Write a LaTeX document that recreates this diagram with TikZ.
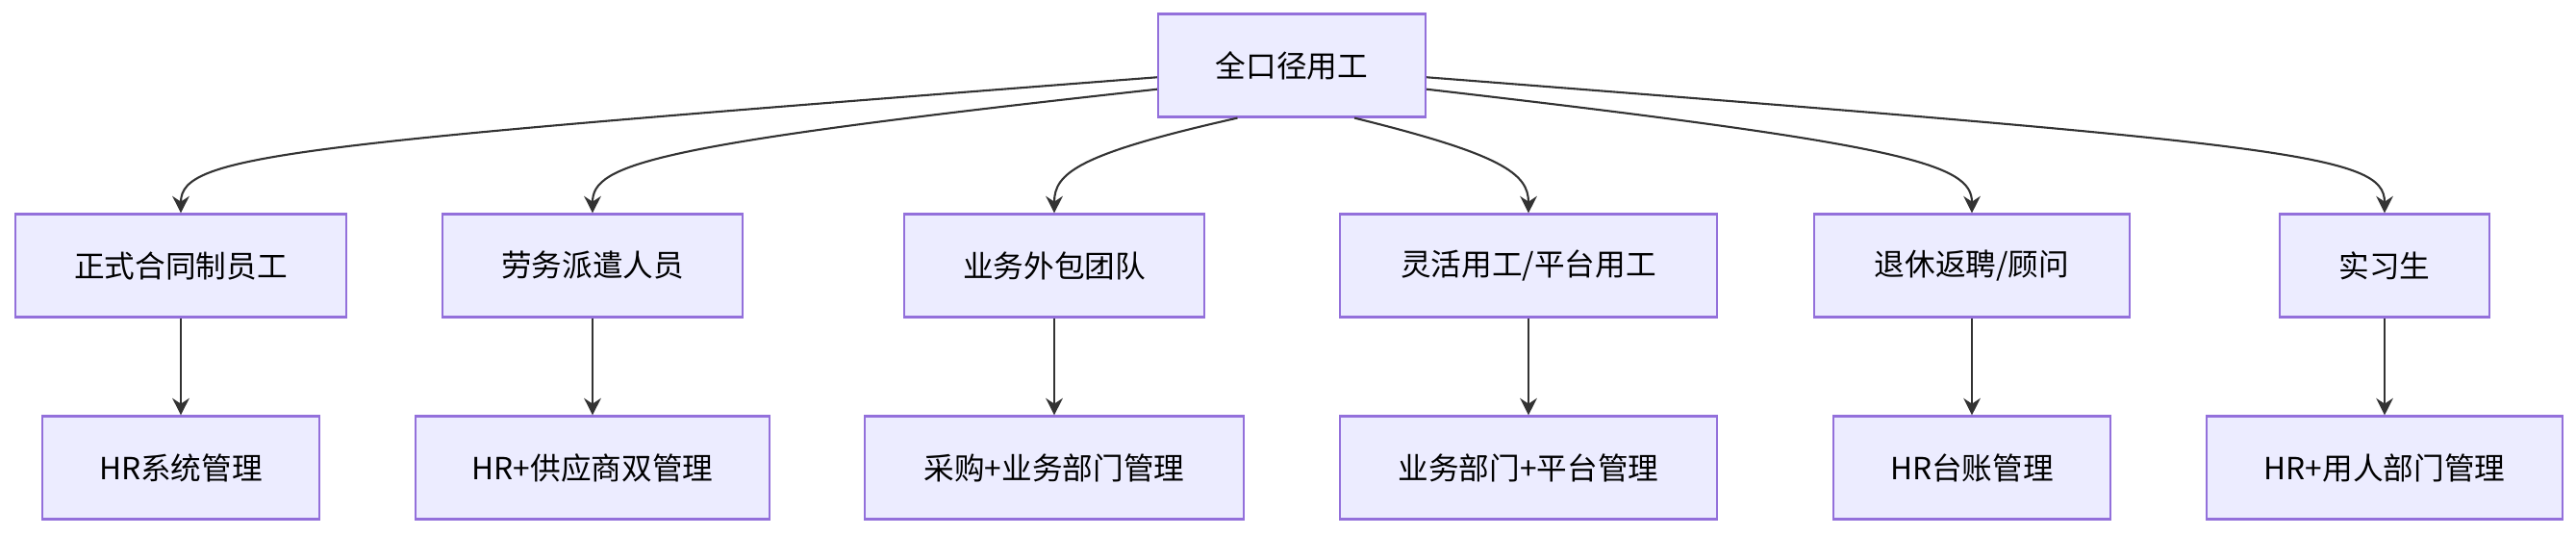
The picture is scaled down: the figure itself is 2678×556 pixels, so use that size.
\documentclass[tikz,border=0pt]{standalone}
\usepackage{fontspec}
\setmainfont{Noto Sans CJK SC}
\usetikzlibrary{arrows.meta}
\definecolor{boxfill}{HTML}{ECECFF}
\definecolor{boxline}{HTML}{9370DB}
\definecolor{edgecol}{HTML}{333333}
\tikzset{
  box/.style={draw=boxline,fill=boxfill,line width=0.6pt,minimum height=1.07cm,font=\fontsize{9}{10}\selectfont,text=black,inner sep=0pt},
  edge/.style={draw=edgecol,line width=0.6pt,-{Stealth[length=5pt,width=5pt]}}
}
\begin{document}
\begin{tikzpicture}[x=0.01cm,y=-0.01cm]
\useasboundingbox (0,0) rectangle (2678,556);
% top
\node[box,minimum width=2.78cm] (top) at (1343,68) {全口径用工};
% groups
\node[box,minimum width=3.44cm] (a) at (188,276) {正式合同制员工};
\node[box,minimum width=3.12cm] (b) at (616,276) {劳务派遣人员};
\node[box,minimum width=3.12cm] (c) at (1096,276) {业务外包团队};
\node[box,minimum width=3.92cm] (d) at (1589,276) {灵活用工/平台用工};
\node[box,minimum width=3.28cm] (e) at (2050,276) {退休返聘/顾问};
\node[box,minimum width=2.18cm] (f) at (2479,276) {实习生};
% management
\node[box,minimum width=2.88cm] (ma) at (188,486) {HR系统管理};
\node[box,minimum width=3.68cm] (mb) at (616,486) {HR+供应商双管理};
\node[box,minimum width=3.93cm] (mc) at (1096,486) {采购+业务部门管理};
\node[box,minimum width=3.92cm] (md) at (1589,486) {业务部门+平台管理};
\node[box,minimum width=2.88cm] (me) at (2050,486) {HR台账管理};
\node[box,minimum width=3.70cm] (mf) at (2479,486) {HR+用人部门管理};
% edges
\draw[edge] (top.185) .. controls (300,150) and (188,160) .. (a.north);
\draw[edge] (top.190) .. controls (680,150) and (616,170) .. (b.north);
\draw[edge] (top.224) .. controls (1120,160) and (1096,180) .. (c.north);
\draw[edge] (top.-40) .. controls (1560,160) and (1589,180) .. (d.north);
\draw[edge] (top.-10) .. controls (1980,150) and (2050,170) .. (e.north);
\draw[edge] (top.-5) .. controls (2380,150) and (2479,160) .. (f.north);
\foreach \s/\t in {a/ma,b/mb,c/mc,d/md,e/me,f/mf}
  \draw[edge] (\s) -- (\t);
\end{tikzpicture}
\end{document}
